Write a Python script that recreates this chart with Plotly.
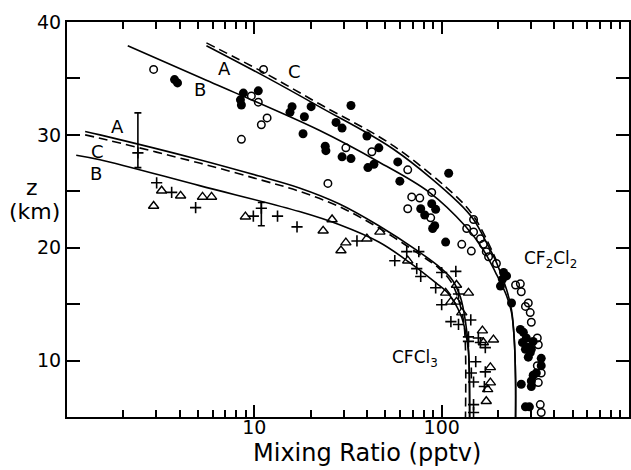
import numpy as np
import plotly.graph_objects as go

# ---- model curves (mixing ratio pptv, altitude km) ----
cf2_A_x = [5.55, 11.3, 22.2, 55.6, 123, 148, 173, 196, 222, 236, 244, 248, 248]
cf2_A_z = [37.9, 35.2, 32.5, 28.7, 24.0, 22.5, 20.5, 18.7, 16.3, 14.5, 11.9, 8.3, 5.0]
cf2_B_x = [2.11, 5.1, 22.2, 46.2, 85.3, 134, 167, 194, 222, 236, 244, 248, 248]
cf2_B_z = [37.9, 35.1, 30.4, 27.6, 24.95, 21.9, 19.8, 17.8, 15.75, 14.25, 11.9, 8.3, 5.0]
cf2_C_x = [5.55, 11.3, 22.2, 55.6, 123, 148, 173, 196]
cf2_C_z = [38.15, 35.5, 32.75, 29.0, 24.35, 22.8, 20.8, 18.85]

cfc_A_x = [1.25, 1.5, 5.1, 10.6, 17.4, 28.3, 46.2, 75.5, 98.8, 114.5, 126, 134, 139, 141]
cfc_A_z = [30.3, 30.0, 27.8, 26.35, 25.3, 23.9, 21.95, 19.65, 18.2, 17.1, 15.6, 13.45, 11.0, 5.0]
cfc_B_x = [1.12, 1.5, 5.1, 17.4, 28.3, 46.2, 66.7, 92.9, 109, 126, 134, 139, 141]
cfc_B_z = [28.2, 27.8, 25.5, 23.2, 22.05, 20.5, 18.75, 16.9, 15.9, 14.1, 12.55, 10.8, 5.0]
cfc_C_x = [1.25, 1.5, 5.1, 10.6, 17.4, 28.3, 46.2, 75.5, 96.4, 112, 123, 131, 134, 134]
cfc_C_z = [30.0, 29.7, 27.5, 26.05, 25.0, 23.65, 21.75, 19.45, 18.2, 17.0, 15.4, 13.45, 11.0, 5.0]

# ---- measurements ----
cf2_open_x = [2.90, 11.2, 9.64, 10.5, 11.7, 10.9, 8.53, 30.8, 42.4, 65.9, 24.7, 88.5, 69.2, 76.4,
              65.9, 87.4, 148, 136, 148, 161, 128, 144, 167, 173, 178, 196, 248, 263, 266, 290,
              280, 297, 301, 324, 328, 324, 340, 328, 336, 340]
cf2_open_z = [35.8, 35.8, 33.45, 32.9, 31.5, 30.9, 29.6, 28.85, 28.5, 26.9, 25.7, 24.9, 24.5, 24.4,
              23.45, 22.65, 22.5, 21.7, 21.4, 20.8, 20.3, 19.7, 20.3, 19.65, 19.2, 18.6, 16.7, 16.8,
              16.1, 15.1, 14.8, 14.25, 13.4, 12.0, 11.4, 9.55, 8.9, 8.05, 6.1, 5.4]

cf2_fill_x = [3.75, 3.89, 8.74, 10.5, 8.43, 8.53, 15.9, 15.5, 20.1, 18.5, 18.2, 32.8, 27.3, 29.4,
              23.9, 24.1, 29.4, 32.8, 39.9, 46.2, 43.5, 40.4, 58.3, 59.8, 109, 77.3, 81.2, 88.5,
              92.9, 91.8, 89.5, 105, 214, 222, 211, 206, 236, 263, 273, 283, 270, 287, 280, 297,
              290, 308, 301, 340, 340, 320, 308, 301, 301, 266, 280, 294]
cf2_fill_z = [34.9, 34.6, 33.7, 33.9, 33.1, 32.65, 32.5, 32.0, 32.5, 31.6, 30.1, 32.6, 31.1, 30.6,
              29.0, 28.6, 28.05, 27.9, 29.9, 28.85, 27.4, 27.1, 27.6, 25.9, 26.6, 23.45, 22.9, 23.9,
              23.4, 21.95, 21.7, 20.5, 17.8, 17.5, 17.2, 16.6, 15.1, 12.75, 12.5, 12.0, 11.6, 11.2,
              11.0, 10.7, 10.3, 11.7, 11.0, 10.2, 9.55, 8.9, 8.7, 8.2, 7.7, 7.9, 5.9, 5.9]

cfc_plus_x = [3.01, 3.62, 4.86, 9.88, 13.3, 16.9, 35.3, 56.2, 65.1, 75.5, 73.6, 77.3, 100, 119,
              92.9, 123, 100, 112, 123, 143, 139, 139, 157, 161, 171, 152, 144, 148, 171, 169,
              148, 148]
cfc_plus_z = [25.75, 24.9, 23.55, 22.8, 22.8, 21.85, 20.6, 18.85, 19.65, 19.65, 18.15, 17.45, 17.8,
              17.9, 16.45, 15.9, 14.95, 13.45, 13.2, 13.6, 12.1, 11.7, 12.0, 11.6, 11.15, 9.9, 8.9,
              8.1, 9.0, 7.7, 6.1, 5.4]

cfc_tri_x = [3.20, 4.04, 2.90, 5.29, 5.91, 8.96, 26.0, 23.3, 30.8, 29.0, 39.9, 46.8, 65.9, 120,
             105, 139, 112, 120, 128, 165, 167, 189, 182, 182, 176, 173]
cfc_tri_z = [25.05, 24.6, 23.7, 24.5, 24.5, 22.75, 22.5, 21.5, 20.45, 19.75, 20.8, 21.4, 18.85,
             16.7, 16.0, 16.0, 15.2, 15.2, 14.25, 12.65, 11.6, 11.85, 9.4, 8.05, 7.45, 6.4]

# points with error bars
eb_x = [2.39, 10.9]
eb_z = [28.4, 23.5]
eb_up = [3.55, 0.5]
eb_down = [1.3, 1.55]

# text labels
curve_lbl = ["A", "B", "C", "A", "C", "B"]
curve_lbl_x = [6.92, 5.10, 16.3, 1.85, 1.46, 1.43]
curve_lbl_z = [35.9, 34.0, 35.6, 30.7, 28.5, 26.6]
species_lbl = ["CF<sub>2</sub>Cl<sub>2</sub>", "CFCl<sub>3</sub>"]
species_x = [380, 71.8]
species_z = [19.0, 10.2]

FONT = "DejaVu Sans"
fig = go.Figure()

def line(x, z, dash=None):
    fig.add_trace(go.Scatter(x=x, y=z, mode="lines",
                             line=dict(color="black", width=1.6, shape="spline",
                                       smoothing=1.0, dash=dash or "solid"),
                             hoverinfo="skip"))

line(cf2_A_x, cf2_A_z)
line(cf2_B_x, cf2_B_z)
line(cf2_C_x, cf2_C_z, "9px,5px")
line(cfc_A_x, cfc_A_z)
line(cfc_B_x, cfc_B_z)
line(cfc_C_x, cfc_C_z, "9px,5px")

fig.add_trace(go.Scatter(x=cf2_open_x, y=cf2_open_z, mode="markers",
                         marker=dict(symbol="circle-open", size=7.5, color="black",
                                     line=dict(width=1.5, color="black"))))
fig.add_trace(go.Scatter(x=cf2_fill_x, y=cf2_fill_z, mode="markers",
                         marker=dict(symbol="circle", size=9, color="black")))
fig.add_trace(go.Scatter(x=cfc_plus_x, y=cfc_plus_z, mode="markers",
                         marker=dict(symbol="cross-thin", size=8, color="black",
                                     line=dict(width=1.6, color="black"))))
fig.add_trace(go.Scatter(x=cfc_tri_x, y=cfc_tri_z, mode="markers",
                         marker=dict(symbol="triangle-up-open", size=9, color="black",
                                     line=dict(width=1.4, color="black"))))
fig.add_trace(go.Scatter(x=eb_x, y=eb_z, mode="markers",
                         marker=dict(symbol="cross-thin", size=8, color="black",
                                     line=dict(width=1.6, color="black")),
                         error_y=dict(type="data", symmetric=False, array=eb_up,
                                      arrayminus=eb_down, color="black", thickness=1.6,
                                      width=3.5)))

ann = []
for t, x, z in zip(curve_lbl, curve_lbl_x, curve_lbl_z):
    ann.append(dict(text=t, x=np.log10(x), y=z, xref="x", yref="y", showarrow=False,
                    font=dict(family=FONT, size=18, color="black")))
for t, x, z in zip(species_lbl, species_x, species_z):
    ann.append(dict(text=t, x=np.log10(x), y=z, xref="x", yref="y", showarrow=False,
                    font=dict(family=FONT, size=17, color="black")))
ann.append(dict(text="Mixing Ratio (pptv)", x=0.534, y=-0.091, xref="paper", yref="paper",
                showarrow=False, xanchor="center", yanchor="middle",
                font=dict(family=FONT, size=24, color="black")))
ann.append(dict(text="z", x=-0.062, y=0.58, xref="paper", yref="paper",
                showarrow=False, xanchor="center", yanchor="middle",
                font=dict(family=FONT, size=22, color="black")))
ann.append(dict(text="(km)", x=-0.0585, y=0.5215, xref="paper", yref="paper",
                showarrow=False, xanchor="center", yanchor="middle",
                font=dict(family=FONT, size=22, color="black")))

axis_common = dict(showline=True, linewidth=2, linecolor="black", mirror="ticks",
                   ticks="inside", tickcolor="black", tickwidth=1.5, showgrid=False,
                   zeroline=False, tickfont=dict(family=FONT, size=19, color="black"))

fig.update_layout(
    width=631, height=470,
    margin=dict(l=67, r=0, t=22, b=53),
    paper_bgcolor="white", plot_bgcolor="white",
    showlegend=False,
    annotations=ann,
    xaxis=dict(type="log", range=[0, 3], tickmode="array",
               tickvals=[10, 100], ticktext=["10", "100"], ticklen=12,
               ticklabelstandoff=-8,
               minor=dict(ticks="inside", ticklen=7, tickwidth=1.5, tickcolor="black",
                          dtick="D1", showgrid=False),
               **axis_common),
    yaxis=dict(range=[5, 40], tickmode="array", tickvals=[10, 20, 30, 40],
               ticktext=["10", "20", "30", "40"], ticklen=13,
               minor=dict(ticks="inside", ticklen=13, tickwidth=1.5, tickcolor="black",
                          tick0=0, dtick=5, showgrid=False),
               **axis_common),
)

fig.write_html("out.html")
